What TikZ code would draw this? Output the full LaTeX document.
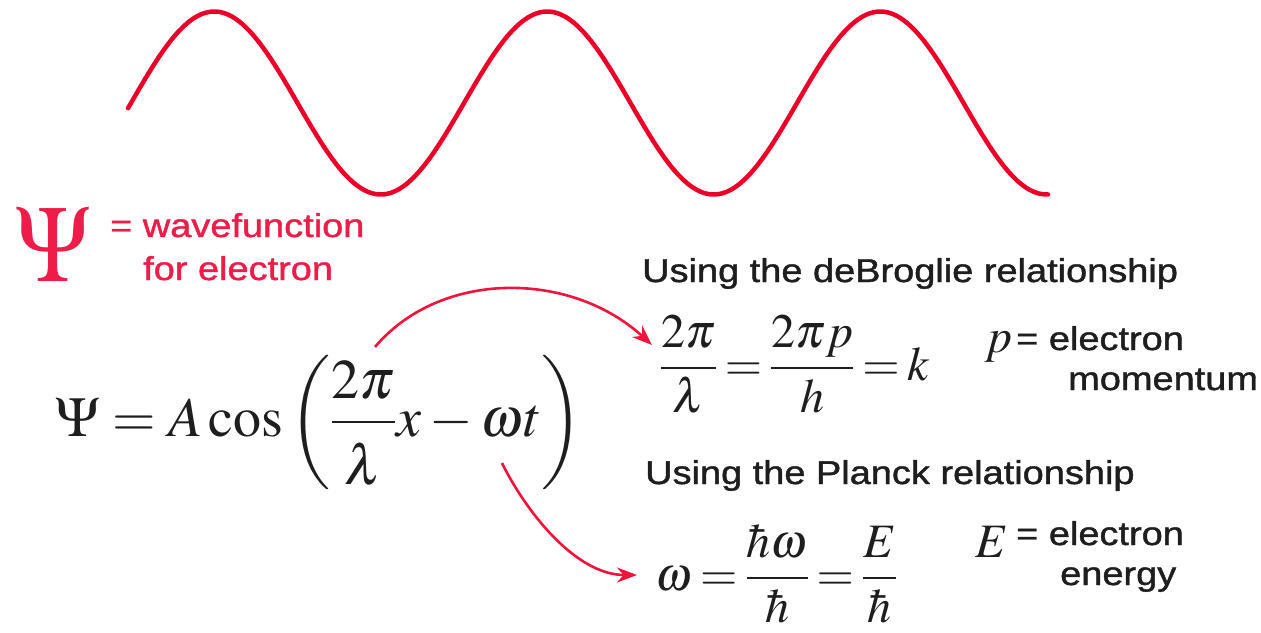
\documentclass[tikz,border=0pt]{standalone}
\usepackage{mathptmx}
\usepackage{fontspec}
\setmainfont{Liberation Serif}
\newfontfamily\labfont[FakeBold=1.2]{Liberation Sans}
\usepackage{graphicx}
\usetikzlibrary{arrows.meta}
\definecolor{wavered}{RGB}{235,0,40}
\definecolor{labred}{RGB}{238,28,72}
\definecolor{arrred}{RGB}{240,20,60}
\definecolor{txt}{RGB}{30,30,30}
\newcommand\wide[1]{\scalebox{1.15}[1]{#1}}
\newcommand\tightmath{\thickmuskip=3mu plus 2mu\relax}
\newcommand\lessmath{\thickmuskip=4mu plus 2mu\relax}
\begin{document}
\begin{tikzpicture}[x=1pt,y=-1pt,
  sanslab/.style={font=\labfont\fontsize{33}{40}\selectfont, inner sep=0pt, text=txt, anchor=base west},
  redlab/.style={sanslab, text=labred},
  mathlab/.style={font=\fontsize{48}{60}\selectfont\tightmath, inner sep=0pt, text=txt, anchor=base west},
  bigmath/.style={font=\fontsize{56}{70}\selectfont\lessmath, inner sep=0pt, text=txt, anchor=base west},
  pointer/.style={draw=arrred, line width=2.6pt, -{Stealth[length=20pt,width=15pt]}}
]
\useasboundingbox (0,0) rectangle (1261,632);

% wave
\draw[wavered, line width=4.5pt, line cap=round]
  plot[domain=128:1048, samples=300, smooth] (\x, {103-91.5*sin((\x-131)*1.081081)});

% Psi label
\node[inner sep=0pt, anchor=south west, text=labred] (bigpsi) at (15,282) {\resizebox{75pt}{74pt}{$\Psi$}};
\node[redlab] (wf1) at (110,237) {\wide{= wavefunction}};
\node[redlab] (wf2) at (143,280) {\wide{for electron}};

% main equation
\node[bigmath] (maineq) at (55,436) {$\displaystyle \Psi = A\cos\left(\frac{2\pi}{\raisebox{-10pt}{$\displaystyle\lambda$}}x-\omega t\right)$};

% deBroglie
\node[sanslab] (dbtitle) at (642,282) {\wide{Using the deBroglie relationship}};
\node[mathlab] (dbeq) at (660,380) {$\displaystyle\frac{2\pi}{\lambda}=\frac{2\pi p}{h}=k$};
\node[mathlab] (pvar) at (985,352) {$p$};
\node[sanslab] (pdef1) at (1016,350) {\wide{= electron}};
\node[sanslab] (pdef2) at (1068,390) {\wide{momentum}};

% Planck
\node[sanslab] (pltitle) at (645,484) {\wide{Using the Planck relationship}};
\node[mathlab] (pleq) at (655,590) {$\displaystyle\omega=\frac{\hbar\omega}{\hbar}=\frac{E}{\hbar}$};
\node[mathlab] (evar) at (975,557) {$E$};
\node[sanslab] (edef1) at (1016,545) {\wide{= electron}};
\node[sanslab] (edef2) at (1060,585) {\wide{energy}};

% arrows
\coordinate (a1s) at (375,347);
\coordinate (a1e) at (652,345);
\coordinate (a2s) at (502,463);
\coordinate (a2e) at (637,575);
\draw[pointer] (a1s) .. controls (440,270) and (570,270) .. (a1e);
\draw[pointer] (a2s) .. controls (525,510) and (575,575) .. (a2e);
\end{tikzpicture}
\end{document}
